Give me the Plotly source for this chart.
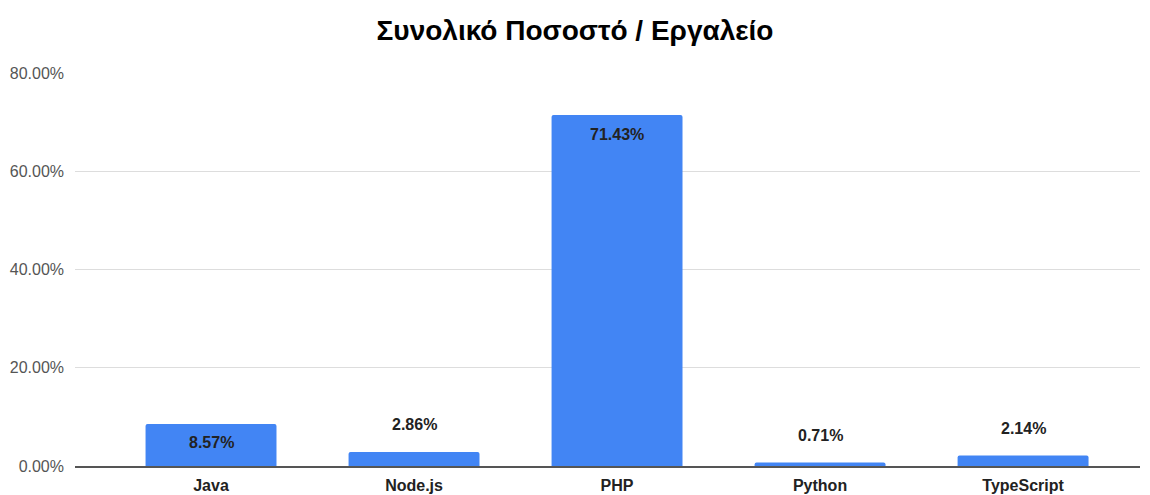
import plotly.graph_objects as go

categories = ["Java", "Node.js", "PHP", "Python", "TypeScript"]
values = [8.57, 2.86, 71.43, 0.71, 2.14]
label_inside = [True, False, True, False, False]
y_ticks = [0, 20, 40, 60, 80]
y_tick_labels = ["0.00%", "20.00%", "40.00%", "60.00%", "80.00%"]
title = "Συνολικό Ποσοστό / Εργαλείο"

FONT = "Liberation Sans, Arial, sans-serif"

fig = go.Figure()
fig.add_trace(go.Bar(
    x=categories, y=values,
    marker=dict(color="#4285f4", cornerradius=2, line=dict(width=0)),
    hoverinfo="x+y",
))

annotations = []
for c, v, ins in zip(categories, values, label_inside):
    annotations.append(dict(
        x=c, y=v, xref="x", yref="y",
        text=f"<b>{v:.2f}%</b>", showarrow=False,
        yshift=-19 if ins else 27,
        font=dict(family=FONT, size=16, color="#222222"),
    ))

fig.update_layout(
    width=1150, height=495,
    margin=dict(l=75, r=10, t=73, b=29),
    paper_bgcolor="white", plot_bgcolor="white",
    title=dict(text=f"<b>{title}</b>", x=0.5, xanchor="center", y=0.939, yanchor="middle",
               font=dict(family=FONT, size=28, color="#000000")),
    bargap=0.355,
    showlegend=False,
    annotations=annotations,
    xaxis=dict(
        range=[-0.67, 4.576], automargin=False,
        showgrid=False, showline=True, linecolor="#555555", linewidth=1.5,
        tickfont=dict(family=FONT, size=16, color="#222222"),
        ticks="", ticklabelstandoff=4,
        tickprefix="<b>", ticksuffix="</b>",
    ),
    yaxis=dict(
        range=[0, 80], tickvals=y_ticks, ticktext=y_tick_labels, automargin=False,
        showgrid=True, gridcolor="#dddddd", gridwidth=1, zeroline=False,
        tickfont=dict(family=FONT, size=16, color="#555555"),
        ticks="", ticklabelstandoff=10,
    ),
)

fig.write_html("out.html", config={"displayModeBar": False},
               post_script="document.body.style.margin='0';")
